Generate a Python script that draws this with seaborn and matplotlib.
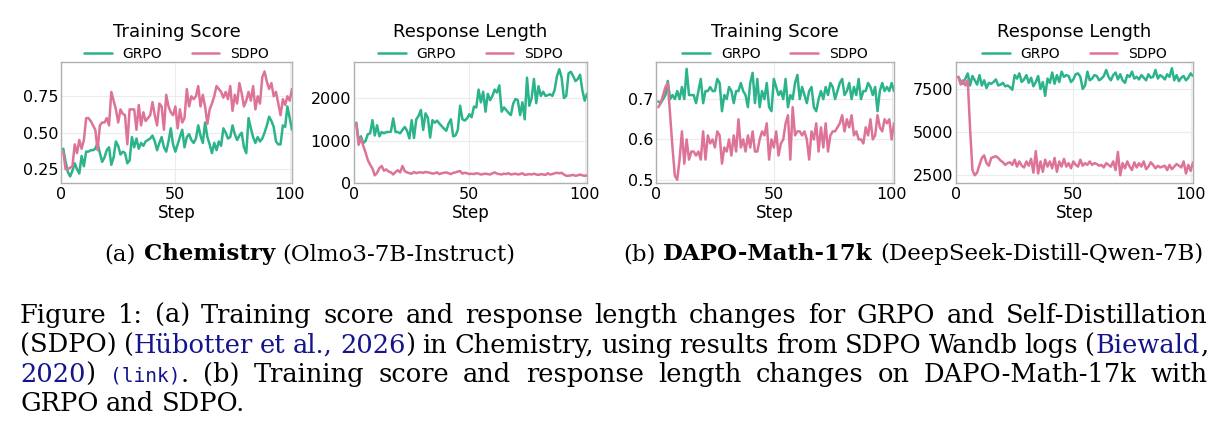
import numpy as np
import pandas as pd
import matplotlib
matplotlib.use("Agg")
import matplotlib.pyplot as plt
import seaborn as sns

# ---- data ----
steps = np.arange(1, 102)

chem_score_grpo = [
    0.39, 0.30, 0.23, 0.20, 0.24, 0.29, 0.25, 0.22, 0.34, 0.27,
    0.37, 0.37, 0.38, 0.38, 0.39, 0.43, 0.36, 0.30, 0.33, 0.38,
    0.40, 0.28, 0.33, 0.44, 0.41, 0.35, 0.37, 0.36, 0.29, 0.31,
    0.47, 0.40, 0.46, 0.39, 0.43, 0.41, 0.44, 0.45, 0.46, 0.48,
    0.44, 0.38, 0.43, 0.47, 0.40, 0.37, 0.44, 0.53, 0.42, 0.37,
    0.42, 0.47, 0.52, 0.40, 0.47, 0.49, 0.45, 0.43, 0.46, 0.55,
    0.48, 0.43, 0.57, 0.47, 0.42, 0.36, 0.43, 0.38, 0.44, 0.41,
    0.53, 0.50, 0.46, 0.47, 0.55, 0.49, 0.45, 0.48, 0.50, 0.40,
    0.36, 0.60, 0.53, 0.47, 0.43, 0.47, 0.44, 0.46, 0.50, 0.55,
    0.61, 0.58, 0.54, 0.44, 0.42, 0.42, 0.55, 0.54, 0.68, 0.60, 0.52,
]
chem_score_sdpo = [
    0.37, 0.25, 0.25, 0.26, 0.27, 0.42, 0.36, 0.45, 0.39, 0.45,
    0.60, 0.60, 0.58, 0.55, 0.52, 0.38, 0.55, 0.57, 0.57, 0.60,
    0.55, 0.78, 0.72, 0.66, 0.57, 0.66, 0.63, 0.62, 0.42, 0.66,
    0.66, 0.66, 0.52, 0.69, 0.55, 0.64, 0.58, 0.60, 0.62, 0.71,
    0.62, 0.55, 0.70, 0.68, 0.52, 0.76, 0.68, 0.64, 0.62, 0.68,
    0.53, 0.66, 0.57, 0.60, 0.80, 0.68, 0.75, 0.73, 0.75, 0.82,
    0.68, 0.76, 0.68, 0.56, 0.66, 0.70, 0.75, 0.82, 0.80, 0.78,
    0.74, 0.78, 0.73, 0.82, 0.65, 0.76, 0.70, 0.84, 0.77, 0.68,
    0.72, 0.78, 0.72, 0.82, 0.66, 0.75, 0.70, 0.88, 0.92, 0.85,
    0.80, 0.84, 0.75, 0.78, 0.70, 0.62, 0.73, 0.69, 0.75, 0.72, 0.80,
]
chem_len_grpo = [
    1420, 1000, 1100, 940, 990, 1150, 1170, 1480, 1120, 1360,
    1100, 1200, 1170, 1200, 1200, 1210, 1520, 1200, 1200, 1170,
    1250, 1320, 1230, 1050, 1480, 1060, 1500, 1580, 1720, 1250,
    1640, 1540, 1070, 1480, 1420, 1470, 1400, 1340, 1280, 1230,
    1400, 1500, 1100, 1120, 1250, 1820, 1500, 1470, 1520, 1620,
    1550, 1800, 1780, 2200, 1900, 2150, 1680, 2100, 1950, 2050,
    2200, 2130, 2300, 1680, 1780, 1720, 1650, 1600, 1870, 1980,
    1950, 1600, 1900, 1500, 2480, 1820, 2000, 2450, 1880, 2280,
    2050, 2150, 2050, 2070, 2090, 2050, 2200, 2520, 2680, 2480,
    2000, 2050, 2580, 2620, 2520, 2400, 2450, 2550, 2180, 1940, 2100,
]
chem_len_sdpo = [
    1400, 900, 1050, 880, 720, 540, 430, 340, 180, 240,
    350, 400, 290, 320, 270, 250, 200, 260, 300, 250,
    400, 280, 250, 230, 220, 260, 230, 250, 250, 240,
    260, 250, 240, 220, 230, 250, 210, 230, 240, 250,
    230, 210, 240, 250, 270, 280, 220, 240, 230, 210,
    220, 210, 230, 220, 200, 210, 220, 210, 200, 230,
    250, 220, 210, 200, 220, 210, 230, 200, 210, 220,
    200, 210, 230, 190, 200, 210, 200, 220, 200, 190,
    210, 200, 190, 230, 200, 210, 230, 240, 230, 240,
    200, 170, 170, 180, 190, 170, 180, 200, 180, 170, 180,
]
math_score_grpo = [
    0.694, 0.69, 0.70, 0.71, 0.745, 0.70, 0.71, 0.70, 0.72, 0.70,
    0.73, 0.70, 0.775, 0.71, 0.71, 0.71, 0.69, 0.72, 0.75, 0.69,
    0.72, 0.72, 0.73, 0.72, 0.72, 0.75, 0.74, 0.67, 0.71, 0.70,
    0.73, 0.72, 0.69, 0.72, 0.72, 0.74, 0.72, 0.71, 0.68, 0.74,
    0.765, 0.69, 0.75, 0.68, 0.72, 0.70, 0.74, 0.68, 0.67, 0.75,
    0.73, 0.71, 0.72, 0.70, 0.75, 0.68, 0.71, 0.70, 0.74, 0.76,
    0.70, 0.73, 0.71, 0.69, 0.72, 0.73, 0.68, 0.67, 0.70, 0.72,
    0.70, 0.73, 0.71, 0.74, 0.73, 0.70, 0.72, 0.74, 0.75, 0.71,
    0.72, 0.74, 0.70, 0.73, 0.71, 0.75, 0.70, 0.72, 0.72, 0.74,
    0.73, 0.71, 0.73, 0.67, 0.72, 0.74, 0.72, 0.73, 0.72, 0.74, 0.72,
]
math_score_sdpo = [
    0.68, 0.69, 0.71, 0.73, 0.74, 0.66, 0.58, 0.51, 0.50, 0.55,
    0.62, 0.54, 0.60, 0.55, 0.57, 0.57, 0.56, 0.57, 0.55, 0.62,
    0.55, 0.61, 0.59, 0.60, 0.58, 0.62, 0.61, 0.54, 0.58, 0.57,
    0.60, 0.56, 0.61, 0.57, 0.65, 0.58, 0.60, 0.57, 0.61, 0.58,
    0.62, 0.57, 0.57, 0.60, 0.62, 0.61, 0.64, 0.55, 0.60, 0.58,
    0.62, 0.56, 0.59, 0.60, 0.64, 0.66, 0.55, 0.68, 0.61, 0.62,
    0.62, 0.61, 0.62, 0.60, 0.55, 0.62, 0.60, 0.64, 0.57, 0.63,
    0.58, 0.64, 0.57, 0.61, 0.62, 0.62, 0.63, 0.64, 0.66, 0.62,
    0.65, 0.63, 0.66, 0.61, 0.62, 0.60, 0.60, 0.59, 0.63, 0.61,
    0.65, 0.60, 0.61, 0.66, 0.63, 0.62, 0.65, 0.64, 0.65, 0.60, 0.64,
]
math_len_grpo = [
    8200, 7950, 7800, 8100, 8400, 7700, 8250, 8000, 7750, 8300,
    7700, 8000, 7550, 7850, 7800, 7900, 8050, 7700, 7750, 7850,
    7650, 7700, 7600, 7450, 8300, 8100, 8400, 7900, 8050, 8300,
    7850, 8150, 7650, 7900, 8250, 7500, 7900, 7100, 8100, 7850,
    8450, 7800, 8300, 7900, 8500, 8200, 8300, 8250, 7900, 8050,
    8350, 8400, 8200, 7500, 7700, 8500, 8000, 8100, 8300, 8250,
    8000, 8100, 8250, 8600, 8200, 8000, 8300, 8450, 8050, 8350,
    8000, 7850, 8300, 8200, 8500, 8100, 8200, 8050, 8300, 8150,
    8000, 8350, 8150, 8200, 8600, 8100, 8300, 8200, 8050, 8350,
    8200, 8700, 8000, 8300, 7950, 8150, 8250, 8000, 8150, 8400, 8250,
]
math_len_sdpo = [
    8200, 7750, 8000, 7700, 8000, 5200, 2800, 2500, 2650, 3100,
    3500, 3650, 3200, 3050, 3500, 3550, 3600, 3500, 3350, 3250,
    3100, 3200, 3250, 3100, 3400, 3000, 3300, 3050, 2950, 3300,
    3050, 3450, 2650, 3900, 2600, 3300, 2700, 3400, 3000, 3300,
    2900, 3500, 2700, 3300, 3000, 3450, 3000, 3200, 2900, 3300,
    3100, 3000, 3400, 3050, 3200, 3100, 3300, 3100, 3200, 3150,
    3050, 3100, 2950, 3200, 3100, 3000, 3300, 2800, 3850, 2500,
    3200, 2900, 3300, 3000, 2800, 3250, 2950, 3200, 3000, 3300,
    2850, 3000, 3250, 3100, 2900, 3050, 2950, 3000, 3050, 2800,
    3100, 2850, 3000, 3150, 3050, 2950, 3300, 2600, 3100, 2750, 3250,
]

methods = ["GRPO", "SDPO"]
titles = ["Training Score", "Response Length", "Training Score", "Response Length"]
series = [
    (chem_score_grpo, chem_score_sdpo),
    (chem_len_grpo, chem_len_sdpo),
    (math_score_grpo, math_score_sdpo),
    (math_len_grpo, math_len_sdpo),
]
yticks = [[0.25, 0.5, 0.75], [0, 1000, 2000], [0.5, 0.6, 0.7], [2500, 5000, 7500]]
ylims = [(0.155, 0.985), (0, 2850), (0.492, 0.792), (2050, 9060)]
ytick_labels = [["0.25", "0.50", "0.75"], ["0", "1000", "2000"],
                ["0.5", "0.6", "0.7"], ["2500", "5000", "7500"]]

palette = {"GRPO": "#2bb38b", "SDPO": "#de7399"}

# ---- style ----
sns.set_theme(style="whitegrid")
plt.rcParams.update({
    "axes.edgecolor": "#b0b0b0",
    "axes.linewidth": 1.0,
    "grid.color": "#ececec",
    "grid.linewidth": 0.8,
    "text.color": "black",
    "axes.labelcolor": "black",
    "xtick.color": "black",
    "ytick.color": "black",
    "xtick.labelsize": 11.5,
    "ytick.labelsize": 11.5,
    "xtick.major.size": 0,
    "ytick.major.size": 0,
    "ytick.major.pad": 2,
    "xtick.major.pad": 3,
})
plt.rcParams["font.family"] = ["DejaVu Sans"]

W, H = 1226, 447
fig = plt.figure(figsize=(W / 100, H / 100), dpi=100)

# axes boxes in pixels: left, top, right, bottom
boxes = [(61, 62, 292, 183), (354, 62, 587, 183), (656, 62, 894, 183), (956, 62, 1193, 183)]

for i, (l, t, r, b) in enumerate(boxes):
    ax = fig.add_axes([l / W, 1 - b / H, (r - l) / W, (b - t) / H])
    g, s = series[i]
    df = pd.DataFrame({
        "Step": np.concatenate([steps, steps]),
        "value": np.concatenate([g, s]),
        "method": ["GRPO"] * len(steps) + ["SDPO"] * len(steps),
    })
    sns.lineplot(data=df, x="Step", y="value", hue="method", hue_order=methods,
                 palette=palette, linewidth=1.8, ax=ax)
    ax.set_xlim(0, 101)
    ax.set_ylim(*ylims[i])
    ax.set_xticks([0, 50, 100])
    ax.set_yticks(yticks[i])
    ax.set_yticklabels(ytick_labels[i])
    ax.set_ylabel("")
    ax.set_xlabel("Step", fontsize=12, labelpad=1)
    ax.set_title(titles[i], fontsize=13, pad=18)
    sns.move_legend(ax, "lower center", bbox_to_anchor=(0.5, 1.0), ncol=2,
                    frameon=False, title=None, fontsize=10, handlelength=2.0,
                    handletextpad=0.8, columnspacing=2.1, borderaxespad=0.0,
                    borderpad=0.1)
    for line in ax.get_legend().get_lines():
        line.set_linewidth(1.8)

# ---- captions (justified like the paper text) ----
renderer = fig.canvas.get_renderer()
FS = 18.5
serif = dict(family="DejaVu Serif", size=FS, color="black")
cite = dict(family="DejaVu Serif", size=FS, color="#14148c")
mono = dict(family="DejaVu Sans Mono", size=14, color="#14148c")
sub = dict(family="DejaVu Serif", size=16.5, color="black")
sub_bold = dict(family="DejaVu Serif", size=16.5, color="black", weight="bold")
SPACE = 7.5


def words_of(text, style=serif):
    return [[(w, style)] for w in text.split()]


def place_line(words, y, x0, x1, mode):
    items = []
    for word in words:
        parts = []
        for s, st in word:
            t = fig.text(0, 0, s, va="baseline", ha="left", **st)
            parts.append((t, t.get_window_extent(renderer).width))
        items.append(parts)
    wsum = [sum(w for _, w in p) for p in items]
    total = sum(wsum)
    if mode == "justify":
        gap = (x1 - x0 - total) / (len(items) - 1)
        x = x0
    else:
        gap = SPACE
        full = total + gap * (len(items) - 1)
        x = x0 if mode == "left" else (x0 + x1) / 2 - full / 2
    for parts, w in zip(items, wsum):
        xx = x
        for t, tw in parts:
            t.set_position((xx / W, 1 - y / H))
            xx += tw
        x += w + gap


sub_a = [[("(a)", sub)], [("Chemistry", sub_bold)], [("(Olmo3-7B-Instruct)", sub)]]
sub_b = [[("(b)", sub)], [("DAPO-Math-17k", sub_bold)], [("(DeepSeek-Distill-Qwen-7B)", sub)]]
place_line(sub_a, 260, 310, 310, "center")
place_line(sub_b, 260, 913, 913, "center")

line1 = words_of("Figure 1: (a) Training score and response length changes for GRPO and Self-Distillation")
line2 = ([[("(SDPO)", serif)], [("(", serif), ("Hübotter", cite)], [("et", cite)],
          [("al.,", cite)], [("2026", cite), (")", serif)]]
         + words_of("in Chemistry, using results from SDPO Wandb logs")
         + [[("(", serif), ("Biewald", cite), (",", serif)]])
line3 = ([[("2020", cite), (")", serif)], [("(link)", mono), (".", serif)]]
         + words_of("(b) Training score and response length changes on DAPO-Math-17k with"))
line4 = words_of("GRPO and SDPO.")

place_line(line1, 323, 20, 1208, "justify")
place_line(line2, 353, 20, 1208, "justify")
place_line(line3, 382, 20, 1208, "justify")
place_line(line4, 411, 20, 1208, "left")

fig.savefig("out.png", dpi=100)
